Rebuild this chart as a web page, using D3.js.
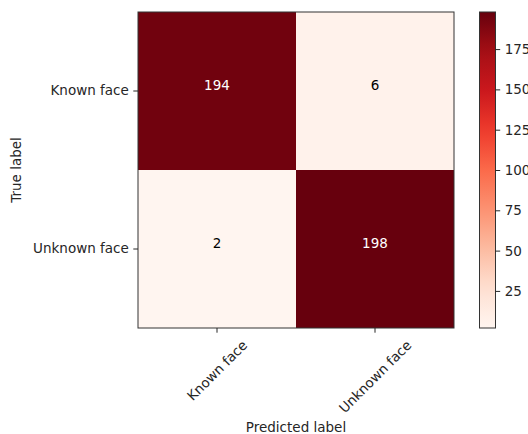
<!DOCTYPE html>
<html><head><meta charset="utf-8">
<script src="https://cdn.jsdelivr.net/npm/d3@7"></script>
<style>
body{margin:0;background:#fff;}
text{font-family:"DejaVu Sans",sans-serif;fill:#262626;}
</style></head>
<body><svg id="c" width="528" height="434"></svg>
<script>
const trueLabels = ["Known face", "Unknown face"];
const predLabels = ["Known face", "Unknown face"];
const counts = [[194, 6], [2, 198]];
const cbTicks = [25, 50, 75, 100, 125, 150, 175];
const redsStops = ["#fff5f0","#fee0d2","#fcbba1","#fc9272","#fb6a4a","#ef3b2c","#cb181d","#a50f15","#67000d"];

const svg = d3.select("#c");
const fs = 13.5;
const L = 138, R = 454, T = 12, B = 328;
const flat = counts.flat();
const vmin = d3.min(flat), vmax = d3.max(flat);

const reds = d3.scaleLinear().domain(d3.range(redsStops.length).map(i => i/(redsStops.length-1))).range(redsStops).interpolate(d3.interpolateRgb);
const norm = d3.scaleLinear().domain([vmin, vmax]).range([0,1]);
const color = v => reds(norm(v));

const x = d3.scaleBand().domain(predLabels).range([L, R]);
const y = d3.scaleBand().domain(trueLabels).range([T, B]);

const g = svg.append("g");
counts.forEach((row, i) => row.forEach((v, j) => {
  g.append("rect").attr("x", x(predLabels[j])).attr("y", y(trueLabels[i]))
    .attr("width", x.bandwidth()).attr("height", y.bandwidth()).attr("fill", color(v));
  g.append("text").attr("x", x(predLabels[j]) + x.bandwidth()/2)
    .attr("y", y(trueLabels[i]) + y.bandwidth()/2 - 1)
    .attr("text-anchor", "middle").style("font-size", fs+"px")
    .style("fill", norm(v) > 0.5 ? "#ffffff" : "#000000").text(v);
}));
svg.append("rect").attr("x", L).attr("y", T).attr("width", R-L).attr("height", B-T)
  .attr("fill","none").attr("stroke","#333").attr("stroke-width",1);

// y axis
const yAx = svg.append("g").attr("transform", `translate(${L},0)`)
  .call(d3.axisLeft(y).tickSize(4.7).tickPadding(4.5));
yAx.select(".domain").remove();
yAx.selectAll("text").style("font-size", fs+"px").style("fill","#262626").attr("dy","0.33em");
yAx.selectAll("line").attr("stroke","#262626");

// x axis
const xAx = svg.append("g").attr("transform", `translate(0,${B})`)
  .call(d3.axisBottom(x).tickSize(4.7).tickFormat(""));
xAx.select(".domain").remove();
xAx.selectAll("line").attr("stroke","#262626");
predLabels.forEach(lab => {
  const t = svg.append("text").style("font-size", fs+"px").attr("text-anchor","middle")
    .attr("dominant-baseline","central").text(lab);
  const w = t.node().getComputedTextLength();
  const h = fs*1.17;
  const bb = (w + h)/Math.SQRT2;
  const cx = x(lab) + x.bandwidth()/2, cy = B + 9 + bb/2;
  t.attr("transform", `translate(${cx},${cy}) rotate(-45)`);
});

svg.append("text").attr("x", (L+R)/2).attr("y", 432).attr("text-anchor","middle")
  .style("font-size", fs+"px").text("Predicted label");
svg.append("text").attr("transform", `translate(20.5,${(T+B)/2}) rotate(-90)`)
  .attr("text-anchor","middle").style("font-size", fs+"px").text("True label");

// colorbar
const cbL = 479.5, cbW = 16;
const defs = svg.append("defs");
const grad = defs.append("linearGradient").attr("id","cbg").attr("x1",0).attr("y1",1).attr("x2",0).attr("y2",0);
d3.range(0, 1.0001, 0.05).forEach(t => grad.append("stop").attr("offset", t).attr("stop-color", reds(t)));
svg.append("rect").attr("x", cbL).attr("y", T).attr("width", cbW).attr("height", B-T)
  .attr("fill","url(#cbg)").attr("stroke","#333").attr("stroke-width",1);
const cbScale = d3.scaleLinear().domain([vmin, vmax]).range([B, T]);
const cbAx = svg.append("g").attr("transform", `translate(${cbL+cbW},0)`)
  .call(d3.axisRight(cbScale).tickValues(cbTicks).tickSize(4.7).tickPadding(4.5));
cbAx.select(".domain").remove();
cbAx.selectAll("text").style("font-size", fs+"px").style("fill","#262626").attr("dy","0.33em");
cbAx.selectAll("line").attr("stroke","#262626");
</script></body></html>
